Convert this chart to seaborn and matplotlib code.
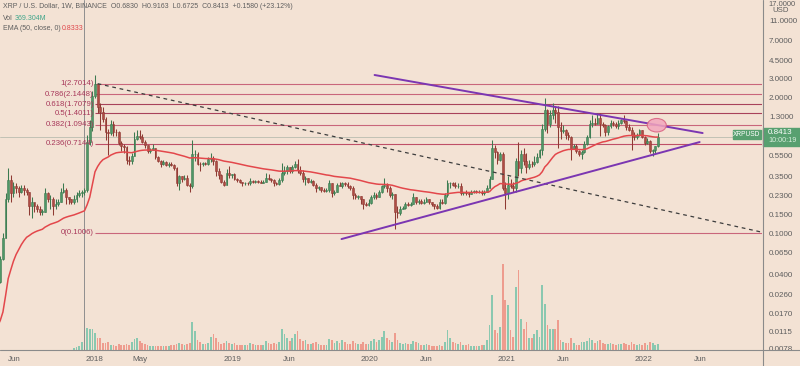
import numpy as np
import pandas as pd
import matplotlib
matplotlib.use("Agg")
import matplotlib.pyplot as plt
import matplotlib.dates as mdates
import matplotlib.transforms as mtrans
from matplotlib.patches import Ellipse, Rectangle
from matplotlib.lines import Line2D
from matplotlib.ticker import NullLocator, NullFormatter
import seaborn as sns

# ---------------- data (weekly XRP/USD candles) ----------------
first_week = "2017-04-17"
first_open = 0.031

close_2017 = [0.034, 0.057, 0.09, 0.21, 0.32, 0.24, 0.28, 0.27, 0.25, 0.27, 0.26, 0.25, 0.18, 0.20,
              0.18, 0.17, 0.16, 0.16, 0.24, 0.21, 0.21, 0.18, 0.19, 0.20, 0.25, 0.26, 0.22, 0.21,
              0.20, 0.21, 0.23, 0.24, 0.25, 0.26, 0.75, 1.05, 2.05]
high_2017 = [0.037, 0.06, 0.10, 0.24, 0.42, 0.36, 0.31, 0.30, 0.28, 0.29, 0.29, 0.27, 0.25, 0.22,
             0.20, 0.19, 0.18, 0.17, 0.27, 0.25, 0.23, 0.22, 0.21, 0.21, 0.27, 0.30, 0.27, 0.22,
             0.21, 0.23, 0.25, 0.26, 0.26, 0.27, 0.88, 1.20, 2.30]
low_2017 = [0.029, 0.033, 0.055, 0.09, 0.20, 0.20, 0.22, 0.24, 0.22, 0.24, 0.23, 0.23, 0.15, 0.14,
            0.16, 0.16, 0.15, 0.15, 0.16, 0.20, 0.17, 0.15, 0.17, 0.18, 0.20, 0.24, 0.19, 0.19,
            0.19, 0.19, 0.20, 0.22, 0.22, 0.23, 0.25, 0.70, 0.95]
vol_2017 = [0, 0, 0, 0, 0, 0, 0, 0, 0, 0, 0, 0, 0, 0, 0, 0, 0, 0, 0, 0, 0, 0, 0, 0, 0, 0, 0, 0, 0,
            120, 180, 240, 480, 300, 1320, 1260, 1260]

close_2018 = [2.70, 1.60, 1.45, 1.25, 0.92, 0.90, 1.12, 0.94, 0.92, 0.73, 0.68, 0.67, 0.50,
              0.49, 0.55, 0.80, 0.85, 0.83, 0.75, 0.70, 0.61, 0.62, 0.66, 0.53, 0.49, 0.46,
              0.48, 0.45, 0.46, 0.45, 0.42, 0.30, 0.35, 0.33, 0.34, 0.29, 0.28, 0.57, 0.57,
              0.46, 0.455, 0.465, 0.46, 0.51, 0.52, 0.49, 0.39, 0.36, 0.31, 0.29, 0.38, 0.36, 0.365]
high_2018 = [3.30, 2.65, 1.75, 1.60, 1.30, 1.00, 1.20, 1.18, 1.00, 0.95, 0.76, 0.72, 0.68,
             0.55, 0.58, 0.92, 0.97, 0.97, 0.89, 0.78, 0.70, 0.66, 0.71, 0.64, 0.55, 0.50,
             0.50, 0.49, 0.48, 0.48, 0.46, 0.43, 0.36, 0.35, 0.36, 0.36, 0.30, 0.78, 0.62,
             0.60, 0.48, 0.48, 0.48, 0.53, 0.58, 0.55, 0.50, 0.42, 0.37, 0.32, 0.41, 0.44, 0.37]
low_2018 = [1.95, 1.40, 0.98, 1.15, 0.78, 0.56, 0.88, 0.85, 0.85, 0.70, 0.61, 0.59, 0.46,
            0.45, 0.46, 0.55, 0.78, 0.80, 0.73, 0.66, 0.58, 0.58, 0.62, 0.51, 0.48, 0.43,
            0.45, 0.44, 0.43, 0.44, 0.40, 0.28, 0.26, 0.31, 0.32, 0.28, 0.25, 0.27, 0.49,
            0.45, 0.39, 0.44, 0.45, 0.45, 0.48, 0.45, 0.35, 0.33, 0.30, 0.28, 0.29, 0.34, 0.34]
vol_2018 = [1020, 720, 720, 420, 420, 480, 300, 300, 240, 360, 300, 300, 360, 300, 480, 660,
            720, 540, 420, 360, 300, 240, 240, 240, 240, 240, 240, 240, 240, 300, 300, 360,
            420, 360, 300, 360, 420, 1680, 1140, 600, 480, 360, 360, 420, 780, 960, 720, 480,
            360, 420, 540, 420, 360]

close_2019 = [0.33, 0.32, 0.31, 0.30, 0.305, 0.30, 0.315, 0.31, 0.315, 0.31, 0.305, 0.31,
              0.34, 0.33, 0.32, 0.30, 0.295, 0.32, 0.38, 0.39, 0.43, 0.39, 0.43, 0.46, 0.40,
              0.38, 0.33, 0.335, 0.31, 0.315, 0.29, 0.27, 0.275, 0.26, 0.255, 0.26, 0.30, 0.24,
              0.25, 0.29, 0.285, 0.30, 0.295, 0.28, 0.27, 0.23, 0.22, 0.225, 0.21, 0.19, 0.185,
              0.195]
high_2019 = [0.38, 0.34, 0.33, 0.31, 0.31, 0.31, 0.34, 0.32, 0.32, 0.32, 0.32, 0.32, 0.38,
             0.37, 0.34, 0.33, 0.31, 0.34, 0.47, 0.44, 0.45, 0.43, 0.45, 0.49, 0.51, 0.44,
             0.40, 0.35, 0.33, 0.33, 0.32, 0.30, 0.28, 0.27, 0.27, 0.27, 0.32, 0.30, 0.26,
             0.30, 0.31, 0.31, 0.31, 0.31, 0.29, 0.28, 0.24, 0.23, 0.22, 0.21, 0.20, 0.21]
low_2019 = [0.32, 0.31, 0.30, 0.28, 0.29, 0.29, 0.29, 0.30, 0.30, 0.30, 0.30, 0.30, 0.31,
            0.32, 0.31, 0.28, 0.29, 0.29, 0.31, 0.36, 0.37, 0.38, 0.38, 0.42, 0.38, 0.36,
            0.31, 0.29, 0.30, 0.30, 0.28, 0.25, 0.26, 0.25, 0.25, 0.25, 0.25, 0.22, 0.23,
            0.25, 0.28, 0.27, 0.28, 0.27, 0.26, 0.21, 0.21, 0.21, 0.19, 0.17, 0.18, 0.18]
vol_2019 = [420, 300, 300, 300, 300, 300, 420, 360, 300, 300, 300, 300, 540, 420, 360, 420,
            360, 480, 1260, 960, 720, 540, 720, 960, 1140, 660, 540, 600, 360, 360, 420, 480,
            360, 300, 300, 300, 660, 600, 420, 540, 420, 600, 480, 360, 360, 540, 420, 360,
            360, 480, 360, 360]

close_2020 = [0.22, 0.23, 0.22, 0.25, 0.28, 0.29, 0.27, 0.23, 0.235, 0.16, 0.155, 0.17, 0.175,
              0.19, 0.185, 0.19, 0.22, 0.20, 0.205, 0.195, 0.20, 0.21, 0.20, 0.19, 0.18, 0.175,
              0.20, 0.195, 0.23, 0.30, 0.30, 0.29, 0.28, 0.285, 0.24, 0.245, 0.24, 0.235, 0.25,
              0.255, 0.245, 0.25, 0.24, 0.25, 0.27, 0.33, 0.65, 0.60, 0.50, 0.57, 0.27, 0.24]
high_2020 = [0.23, 0.25, 0.24, 0.26, 0.29, 0.34, 0.30, 0.28, 0.25, 0.23, 0.18, 0.18, 0.18,
             0.20, 0.20, 0.20, 0.24, 0.22, 0.21, 0.21, 0.21, 0.22, 0.21, 0.20, 0.19, 0.19,
             0.21, 0.21, 0.24, 0.32, 0.31, 0.31, 0.31, 0.30, 0.30, 0.25, 0.26, 0.25, 0.26,
             0.26, 0.26, 0.26, 0.26, 0.26, 0.29, 0.35, 0.78, 0.70, 0.61, 0.60, 0.60, 0.31]
low_2020 = [0.19, 0.21, 0.21, 0.22, 0.24, 0.27, 0.25, 0.22, 0.21, 0.11, 0.14, 0.15, 0.17,
            0.17, 0.18, 0.18, 0.19, 0.19, 0.19, 0.19, 0.19, 0.20, 0.19, 0.18, 0.17, 0.17,
            0.17, 0.19, 0.19, 0.22, 0.27, 0.28, 0.27, 0.27, 0.23, 0.23, 0.23, 0.22, 0.24,
            0.24, 0.24, 0.24, 0.23, 0.23, 0.25, 0.27, 0.33, 0.52, 0.46, 0.49, 0.26, 0.17]
vol_2020 = [540, 660, 480, 600, 780, 1140, 720, 600, 480, 1020, 600, 420, 360, 420, 360, 360,
            540, 480, 420, 300, 300, 360, 300, 240, 240, 240, 300, 240, 480, 1200, 720, 480,
            420, 360, 480, 300, 300, 360, 240, 240, 240, 240, 300, 300, 600, 1500, 3300, 1200,
            1020, 1380, 5160, 3000]

close_2021 = [0.29, 0.28, 0.27, 0.49, 0.42, 0.57, 0.49, 0.43, 0.46, 0.455, 0.48, 0.54, 0.63,
              1.00, 1.50, 1.10, 1.35, 1.50, 1.45, 1.05, 0.96, 0.97, 0.87, 0.83, 0.64, 0.68,
              0.61, 0.57, 0.60, 0.72, 0.84, 1.10, 1.13, 1.12, 1.26, 1.10, 1.09, 0.93, 1.07,
              1.14, 1.12, 1.06, 1.14, 1.22, 1.19, 1.05, 0.98, 0.87, 0.84, 0.87, 0.98, 0.83]
high_2021 = [0.35, 0.33, 0.31, 0.52, 0.75, 0.62, 0.65, 0.58, 0.50, 0.49, 0.55, 0.59, 0.64,
             1.10, 1.96, 1.56, 1.50, 1.75, 1.64, 1.65, 1.15, 1.08, 1.00, 0.92, 0.86, 0.72,
             0.71, 0.63, 0.63, 0.77, 0.88, 1.20, 1.35, 1.27, 1.41, 1.42, 1.17, 1.10, 1.09,
             1.21, 1.19, 1.17, 1.22, 1.25, 1.35, 1.22, 1.12, 1.04, 0.92, 0.91, 1.00, 0.98]
low_2021 = [0.21, 0.27, 0.25, 0.25, 0.35, 0.38, 0.45, 0.38, 0.41, 0.43, 0.44, 0.47, 0.52,
            0.56, 0.95, 0.90, 1.03, 1.25, 1.14, 0.65, 0.80, 0.91, 0.79, 0.78, 0.50, 0.64,
            0.59, 0.55, 0.51, 0.58, 0.70, 0.81, 1.05, 1.09, 1.10, 0.85, 1.04, 0.86, 0.88,
            1.02, 1.06, 1.02, 0.99, 1.12, 1.14, 0.98, 0.95, 0.62, 0.78, 0.79, 0.85, 0.81]
vol_2021 = [2700, 1200, 780, 3780, 4800, 1860, 1260, 1680, 720, 720, 960, 1200, 780, 3900,
            2760, 1500, 1260, 1260, 1260, 1800, 600, 480, 420, 400, 720, 420, 300, 300, 480,
            480, 540, 720, 600, 420, 540, 600, 420, 360, 360, 420, 360, 300, 360, 360, 420,
            360, 300, 480, 360, 300, 360, 300]

close_2022 = [0.73, 0.77, 0.61, 0.63, 0.683, 0.8413]
high_2022 = [0.85, 0.81, 0.78, 0.64, 0.69, 0.9163]
low_2022 = [0.70, 0.72, 0.59, 0.55, 0.59, 0.6725]
vol_2022 = [420, 300, 480, 420, 300, 369]

ema_start = 0.012         # EMA(50) level at the left edge of the chart
ema_length = 50

fib_ratios = ["1", "0.786", "0.618", "0.5", "0.382", "0.236", "0"]
fib_prices = [2.7014, 2.1448, 1.7079, 1.4011, 1.0943, 0.7144, 0.1006]
fib_start = "2018-01-01"

upper_line_dates = ["2020-01-15", "2022-06-06"]
upper_line_prices = [3.27, 0.909]
lower_line_dates = ["2019-10-19", "2022-05-29"]
lower_line_prices = [0.0877, 0.745]
dash_line_dates = ["2018-01-08", "2022-11-11"]
dash_line_prices = [2.70, 0.102]
marker_date = "2022-02-04"
marker_price = 1.08
last_price = 0.8413
vline_date = "2017-12-04"

price_ticks = [11, 7, 4.5, 3, 2, 1.3, 0.55, 0.35, 0.23, 0.15, 0.1, 0.065, 0.04, 0.026,
               0.017, 0.0115, 0.0078]
top_price_label = "17.0000"
time_tick_dates = ["2017-06-01", "2018-01-01", "2018-05-01", "2019-01-01", "2019-06-01",
                   "2020-01-01", "2020-06-01", "2021-01-01", "2021-06-01", "2022-01-01",
                   "2022-06-01"]
time_tick_labels = ["Jun", "2018", "May", "2019", "Jun", "2020", "Jun", "2021", "Jun", "2022",
                    "Jun"]

# ---------------- assemble ----------------
close = np.array(close_2017 + close_2018 + close_2019 + close_2020 + close_2021 + close_2022)
high = np.array(high_2017 + high_2018 + high_2019 + high_2020 + high_2021 + high_2022)
low = np.array(low_2017 + low_2018 + low_2019 + low_2020 + low_2021 + low_2022)
vol = np.array(vol_2017 + vol_2018 + vol_2019 + vol_2020 + vol_2021 + vol_2022, dtype=float)
dates = pd.date_range(first_week, periods=len(close), freq="7D")
xd = mdates.date2num(dates.to_pydatetime())
opens = np.concatenate([[first_open], close[:-1]])
high = np.maximum(high, np.maximum(opens, close))
low = np.minimum(low, np.minimum(opens, close))
up = close >= opens

alpha = 2.0 / (ema_length + 1)
ema = []
e = ema_start
for c in close:
    e = e + alpha * (c - e)
    ema.append(e)
df = pd.DataFrame({"date": dates, "ema": ema})

# ---------------- style ----------------
BG = "#F3E2D4"
UP, DOWN = "#4f9766", "#b04c44"
UPE, DOWNE = "#3c7a50", "#8e3a33"
VUP, VDOWN = "#84c7ae", "#ee988b"
TXT = "#5e5e5e"
PURPLE = "#7b36b2"
fib_colors = ["#c9667b", "#c9667b", "#a8425a", "#a8425a", "#c9667b", "#bf4f67", "#c9667b"]

sns.set_theme(style="white")
plt.rcParams["font.family"] = ["Liberation Sans", "DejaVu Sans"]

W, H = 800, 366
fig = plt.figure(figsize=(8, 3.66), dpi=100, facecolor=BG)
rect = [0, 16 / H, 762 / W, 350 / H]
axv = fig.add_axes(rect)
axv.set_facecolor(BG)
ax = fig.add_axes(rect, sharex=axv)
ax.patch.set_alpha(0)

base = mdates.date2num(pd.Timestamp("2018-01-01").to_pydatetime())
xmin, xmax = base - 252.8, base + 1775.0

# volume
m = vol > 0
axv.bar(xd[m], vol[m], width=4.6, color=np.where(up[m], VUP, VDOWN), linewidth=0, alpha=0.95)
axv.set_ylim(0, 21000)
axv.tick_params(left=False, labelleft=False, bottom=False, labelbottom=False)
for s in axv.spines.values():
    s.set_visible(False)

# price
ax.set_yscale("log")
cols = np.where(up, UP, DOWN)
ecols = np.where(up, UPE, DOWNE)
ax.vlines(xd, low, high, colors=ecols, linewidth=0.75, zorder=3)
bot = np.minimum(opens, close)
top = np.maximum(np.maximum(opens, close), bot * 1.012)
ax.bar(xd, top - bot, bottom=bot, width=4.8, color=cols, edgecolor=ecols, linewidth=0.4, zorder=4)

sns.lineplot(data=df, x="date", y="ema", ax=ax, color="#e3474b", linewidth=1.1,
             estimator=None, sort=False, legend=False, zorder=5)

# fib retracement
fx0 = mdates.date2num(pd.Timestamp(fib_start).to_pydatetime())
ax.hlines(fib_prices, fx0 + 1, xmax, colors=fib_colors, linewidth=0.8, zorder=2)
for r, p in zip(fib_ratios, fib_prices):
    ax.text(fx0 - 3, p, f"{r}({p:.4f})", ha="right", va="center", fontsize=5.6,
            color="#a8385a", zorder=6)

def dn(ds):
    return [mdates.date2num(pd.Timestamp(d).to_pydatetime()) for d in ds]

ax.plot(dn(dash_line_dates), dash_line_prices, color="#3d3d3d", lw=0.9, ls=(0, (3, 3)), zorder=6)
ax.plot(dn(upper_line_dates), upper_line_prices, color=PURPLE, lw=1.4, zorder=6)
ax.plot(dn(lower_line_dates), lower_line_prices, color=PURPLE, lw=1.4, zorder=6)

ax.axhline(last_price, color="#a0aca0", lw=0.6, alpha=0.7, zorder=1)
ax.axvline(dn([vline_date])[0], color="#8e8e8e", lw=0.7, zorder=1)

etr = fig.dpi_scale_trans + mtrans.ScaledTranslation(dn([marker_date])[0], marker_price, ax.transData)
ax.add_patch(Ellipse((0, 0), 0.19, 0.135, transform=etr, facecolor="#f2a6bd", alpha=0.85,
                     edgecolor="#d9607f", lw=0.8, zorder=7))

ax.set_xlim(xmin, xmax)
ax.set_ylim(0.00759, 17.1)
ax.set_xlabel("")
ax.set_ylabel("")
for s in ax.spines.values():
    s.set_visible(False)

ax.yaxis.tick_right()
ax.yaxis.set_minor_locator(NullLocator())
ax.yaxis.set_minor_formatter(NullFormatter())
ax.set_yticks(price_ticks)
ax.set_yticklabels([f"{v:.4f}" for v in price_ticks])
ax.tick_params(axis="y", length=0, pad=5, labelsize=5.8, labelcolor=TXT)
ax.set_xticks(dn(time_tick_dates))
ax.set_xticklabels(time_tick_labels)
ax.xaxis.set_minor_locator(NullLocator())
ax.tick_params(axis="x", length=0, pad=4, labelsize=5.8, labelcolor=TXT)

# frame lines
fig.add_artist(Line2D([0, 1], [1 - 349.5 / H] * 2, transform=fig.transFigure, color="#8a8a8a", lw=0.8))
fig.add_artist(Line2D([762.5 / W] * 2, [0, 1], transform=fig.transFigure, color="#8a8a8a", lw=0.8))

def P(x, y):
    return x / W, 1 - y / H

# price tags
TAG = "#58a070"
fig.add_artist(Rectangle(P(733, 139), 28 / W, 9 / H, transform=fig.transFigure, color=TAG))
fig.text(*P(747, 134.5), "XRPUSD", ha="center", va="center", fontsize=4.8, color="white")
fig.add_artist(Rectangle(P(763, 146), 37 / W, 18 / H, transform=fig.transFigure, color=TAG))
fig.text(*P(768, 132.5), "0.8413", ha="left", va="center", fontsize=5.8, color="white")
fig.text(*P(768, 141), "10:00:19", ha="left", va="center", fontsize=5.2, color="#d8eedd")
fig.text(*P(768, 0.5), top_price_label, ha="left", va="top", fontsize=5.4, color=TXT)
fig.text(*P(781, 10), "USD", ha="center", va="center", fontsize=5.6, color=TXT)

# header
fig.text(*P(3, 7), "XRP / U.S. Dollar, 1W, BINANCE  O0.6830  H0.9163  L0.6725  C0.8413  +0.1580 (+23.12%)",
         ha="left", va="center", fontsize=5.0, color=TXT)
fig.text(*P(3, 18), "Vol", ha="left", va="center", fontsize=5.0, color=TXT)
fig.text(*P(15, 18), "369.304M", ha="left", va="center", fontsize=5.0, color="#3fa58a")
fig.text(*P(3, 28.5), "EMA (50, close, 0)", ha="left", va="center", fontsize=5.0, color=TXT)
fig.text(*P(62, 28.5), "0.8333", ha="left", va="center", fontsize=5.0, color="#e0474b")

fig.savefig("out.png", dpi=100, facecolor=BG)
